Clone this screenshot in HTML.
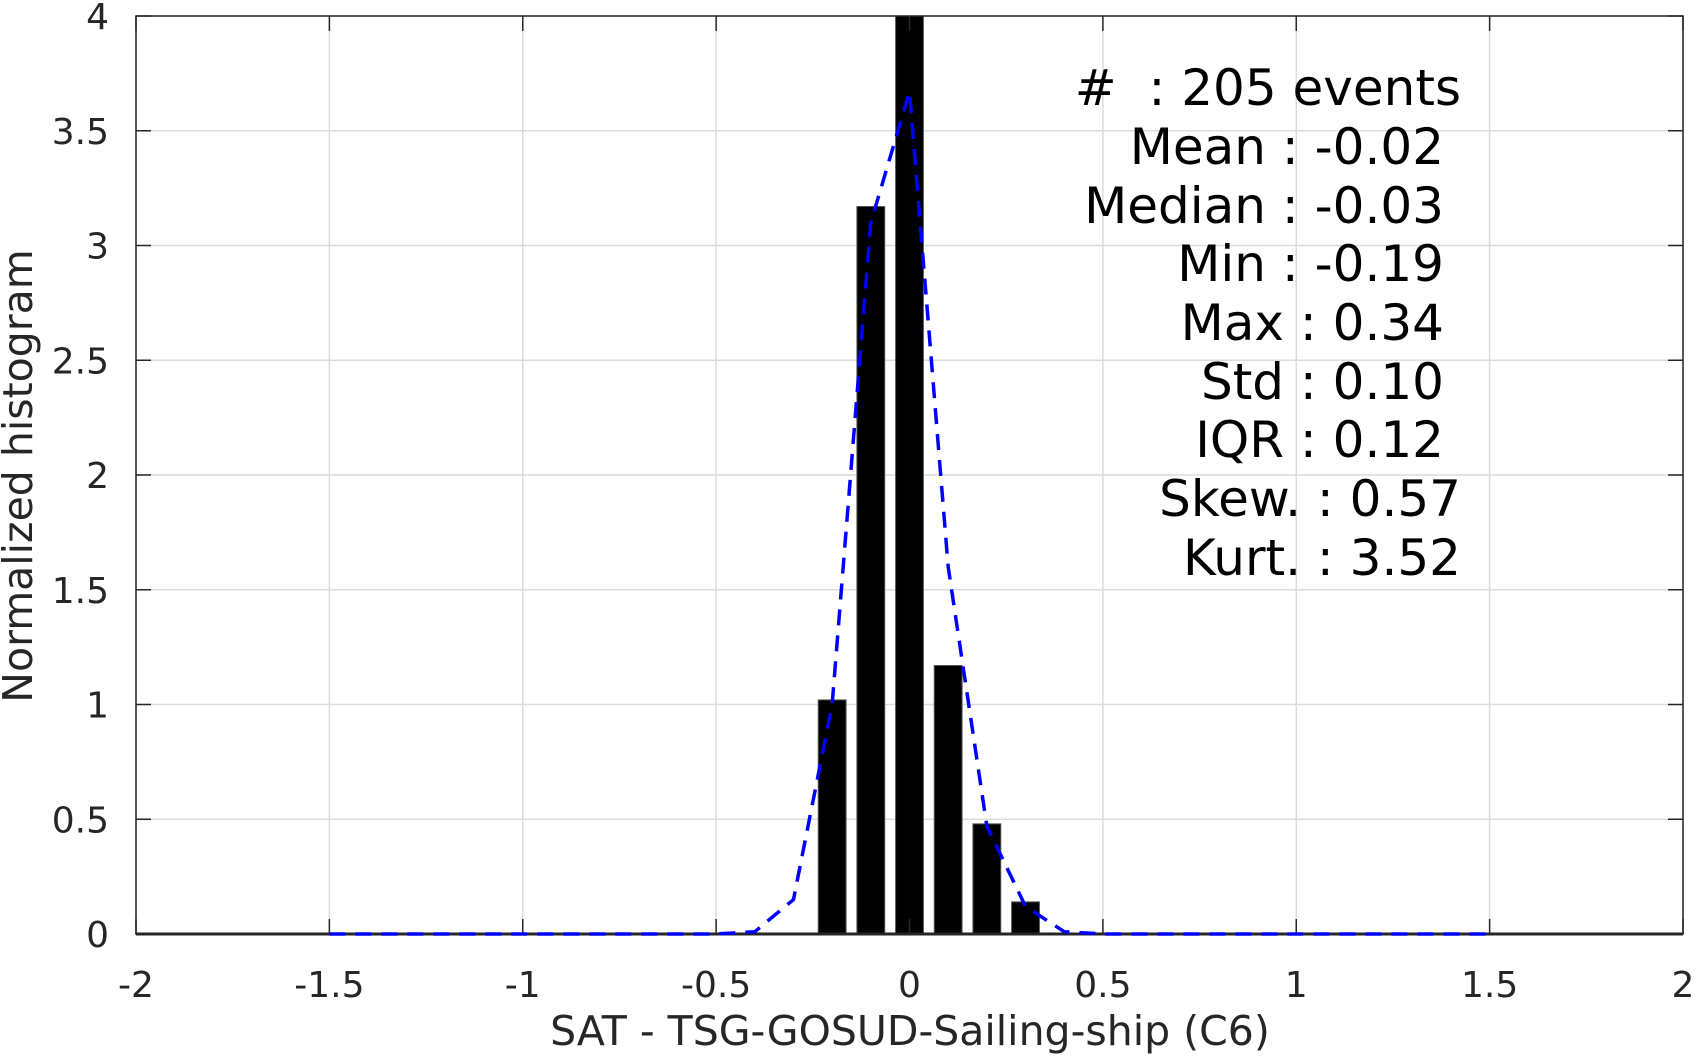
<!DOCTYPE html>
<html><head><meta charset="utf-8"><style>
html,body{margin:0;padding:0;background:#fff;}
svg{display:block;font-family:"DejaVu Sans","Liberation Sans",sans-serif;}
</style></head><body>
<svg id="chart" width="1703" height="1056" viewBox="0 0 1703 1056" xmlns="http://www.w3.org/2000/svg">
<g id="grid"></g>
<g id="bars"></g>
<g id="axes"></g>
<path id="fit" fill="none" stroke="#0000ff" stroke-width="3.5" stroke-dasharray="16,10"/>
<text transform="translate(32,476) rotate(-90)" text-anchor="middle" font-size="41" fill="#262626">Normalized histogram</text>
<text x="910" y="1045" text-anchor="middle" font-size="41" fill="#262626">SAT - TSG-GOSUD-Sailing-ship (C6)</text>
<g font-size="50" fill="#000" text-anchor="end">
<text x="1461" y="105" xml:space="preserve">#  : 205 events</text>
<text x="1444" y="164">Mean : -0.02</text>
<text x="1444" y="223">Median : -0.03</text>
<text x="1444" y="281">Min : -0.19</text>
<text x="1444" y="340">Max : 0.34</text>
<text x="1444" y="399">Std : 0.10</text>
<text x="1444" y="457">IQR : 0.12</text>
<text x="1461" y="516">Skew. : 0.57</text>
<text x="1461" y="575">Kurt. : 3.52</text>
</g>
</svg>
<script>
const binCenters=[-0.2,-0.1,0,0.1,0.2,0.3];
const binHeights=[1.02,3.17,4.0,1.17,0.48,0.14];
const fitX=[-1.5,-1.4,-1.3,-1.2,-1.1,-1.0,-0.9,-0.8,-0.7,-0.6,-0.5,-0.4,-0.3,-0.2,-0.1,0,0.1,0.2,0.3,0.4,0.5,0.6,0.7,0.8,0.9,1.0,1.1,1.2,1.3,1.4,1.5];
const fitY=[0,0,0,0,0,0,0,0,0,0,0,0.01,0.15,1.0,3.1,3.67,1.6,0.47,0.12,0.01,0,0,0,0,0,0,0,0,0,0,0];
const xTicks=[-2,-1.5,-1,-0.5,0,0.5,1,1.5,2];
const xTickLabels=["-2","-1.5","-1","-0.5","0","0.5","1","1.5","2"];
const yTicks=[0,0.5,1,1.5,2,2.5,3,3.5,4];
const yTickLabels=["0","0.5","1","1.5","2","2.5","3","3.5","4"];
const binWidth=0.072;
const L=136,R=1683,T=16,B=934;
const sx=v=>L+(v+2)/4*(R-L);
const sy=v=>B-v/4*(B-T);
const NS="http://www.w3.org/2000/svg";
function mk(tag,attrs,parent){const e=document.createElementNS(NS,tag);for(const k in attrs)e.setAttribute(k,attrs[k]);parent.appendChild(e);return e;}
const grid=document.getElementById('grid'),axes=document.getElementById('axes'),bars=document.getElementById('bars');
xTicks.forEach((t,i)=>{
 const x=sx(t);
 const g=mk('line',{x1:x,x2:x,y1:T,y2:B,stroke:'#dcdcdc','stroke-width':1.5},grid);
 
 
 const a=mk('line',{x1:x,x2:x,y1:B,y2:B-15,stroke:'#262626','stroke-width':1.5},axes);
 
 
 const b=mk('line',{x1:x,x2:x,y1:T,y2:T+15,stroke:'#262626','stroke-width':1.5},axes);
 
 
 const tx=mk('text',{x:x,y:B+63,'text-anchor':'middle','font-size':36,fill:'#262626'},axes);
 tx.textContent=xTickLabels[i];
 
 
});
yTicks.forEach((t,i)=>{
 const y=sy(t);
 const g=mk('line',{x1:L,x2:R,y1:y,y2:y,stroke:'#dcdcdc','stroke-width':1.5},grid);
 
 
 const a=mk('line',{x1:L,x2:L+15,y1:y,y2:y,stroke:'#262626','stroke-width':1.5},axes);
 
 
 const b=mk('line',{x1:R,x2:R-15,y1:y,y2:y,stroke:'#262626','stroke-width':1.5},axes);
 
 
 const tx=mk('text',{x:L-27,y:y+13,'text-anchor':'end','font-size':36,fill:'#262626'},axes);
 tx.textContent=yTickLabels[i];
 
 
});
const frame=mk('rect',{x:L,y:T,width:R-L,height:B-T,fill:'none',stroke:'#262626','stroke-width':1.5},axes);


binCenters.forEach((c,i)=>{
 const x0=sx(c-binWidth/2),x1=sx(c+binWidth/2);
 const r=mk('rect',{x:x0,y:sy(binHeights[i]),width:x1-x0,height:sy(0)-sy(binHeights[i]),fill:'#000',stroke:'#555','stroke-width':1},bars);
 
 
});
const base=mk('line',{x1:L,x2:R,y1:B,y2:B,stroke:'#262626','stroke-width':3},axes);


document.getElementById('fit').setAttribute('d',fitX.map((v,i)=>(i?'L':'M')+sx(v)+','+sy(fitY[i])).join(' '));
</script>
</body></html>
